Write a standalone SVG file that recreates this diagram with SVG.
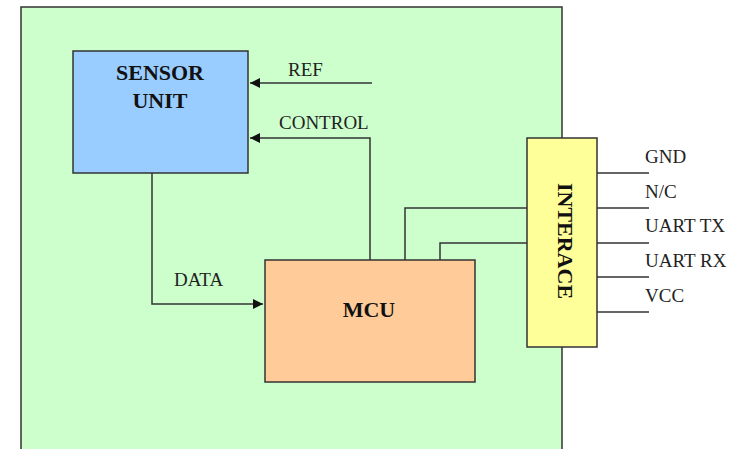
<svg xmlns="http://www.w3.org/2000/svg" width="739" height="449" viewBox="0 0 739 449">
<style>
.box{stroke:#333;stroke-width:1.5}
.ln{fill:none;stroke:#333;stroke-width:1.5}
.lbl{font-family:"Liberation Serif","Times New Roman",serif;font-size:19px;fill:#222}
.bold{font-family:"Liberation Serif","Times New Roman",serif;font-size:22px;font-weight:bold;fill:#111}
</style>
<defs>
<marker id="arr" viewBox="0 0 10 10" refX="10" refY="5" markerWidth="10" markerHeight="10" markerUnits="userSpaceOnUse" orient="auto">
<path d="M0,0 L10,5 L0,10 z" fill="#111"/>
</marker>
</defs>
<rect width="739" height="449" fill="#fff"/>
<g id="board"><rect class="box" x="21" y="7" width="541" height="460" fill="#CCFFCC"/></g>
<g id="connectors">
<path class="ln" d="M372,83 H250" marker-end="url(#arr)"/>
<path class="ln" d="M370,260 V138 H250" marker-end="url(#arr)"/>
<path class="ln" d="M152,173 V304 H263" marker-end="url(#arr)"/>
<path class="ln" d="M405,260 V208 H527"/>
<path class="ln" d="M440,260 V243 H527"/>
<path class="ln" d="M597,173 H649 M597,208 H649 M597,243 H649 M597,277 H649 M597,312 H649"/>
<text class="lbl" x="288" y="76">REF</text>
<text class="lbl" x="279" y="129">CONTROL</text>
<text class="lbl" x="174" y="286">DATA</text>
<text class="lbl" x="645" y="163">GND</text>
<text class="lbl" x="645" y="198">N/C</text>
<text class="lbl" x="645" y="232">UART TX</text>
<text class="lbl" x="645" y="267">UART RX</text>
<text class="lbl" x="645" y="302">VCC</text>
</g>
<g id="sensor">
<rect class="box" x="73" y="51" width="175" height="122" fill="#99CCFF"/>
<text class="bold" x="160" y="80" text-anchor="middle">SENSOR</text>
<text class="bold" x="160" y="108" text-anchor="middle">UNIT</text>
</g>
<g id="mcu">
<rect class="box" x="265" y="260" width="210" height="122" fill="#FFCC99"/>
<text class="bold" x="369" y="317" text-anchor="middle">MCU</text>
</g>
<g id="interface">
<rect class="box" x="527" y="138" width="70" height="209" fill="#FFFF99"/>
<text class="bold" transform="translate(558,241) rotate(90)" text-anchor="middle">INTERACE</text>
</g>
</svg>
